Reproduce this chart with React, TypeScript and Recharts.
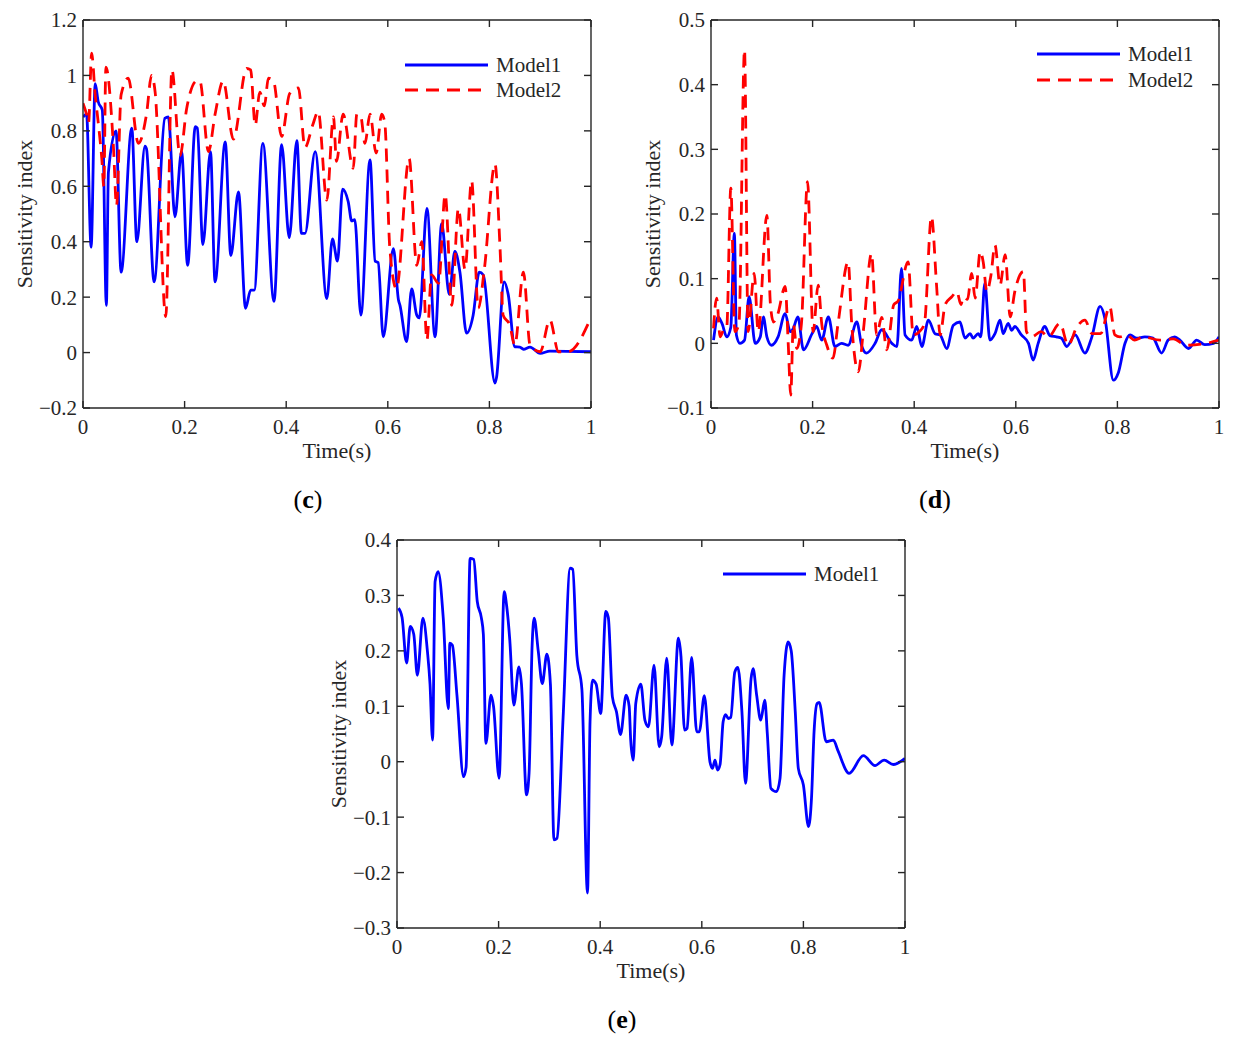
import React from 'react';
import { LineChart, Line, XAxis, YAxis, Legend } from 'recharts';

const FONT = '"Liberation Serif", "Times New Roman", serif';
const AXIS = '#262626';
const BLUE = '#0000ff';
const RED = '#ff0000';

const timeTicks = [0, 0.2, 0.4, 0.6, 0.8, 1];
const cTicks = [-0.2, 0, 0.2, 0.4, 0.6, 0.8, 1, 1.2];
const dTicks = [-0.1, 0, 0.1, 0.2, 0.3, 0.4, 0.5];
const eTicks = [-0.3, -0.2, -0.1, 0, 0.1, 0.2, 0.3, 0.4];

// [time, sensitivity] pairs
const cModel1: [number, number][] = [
  [0, 0.85], [0.007, 0.86], [0.016, 0.38], [0.024, 0.97], [0.03, 0.905], [0.038, 0.875], [0.046, 0.17], [0.05, 0.65],
  [0.065, 0.8], [0.075, 0.29], [0.096, 0.81], [0.106, 0.4], [0.122, 0.745], [0.125, 0.735], [0.14, 0.255], [0.161, 0.845],
  [0.168, 0.85], [0.181, 0.49], [0.194, 0.725], [0.206, 0.315], [0.221, 0.815], [0.225, 0.81], [0.236, 0.39], [0.251, 0.725],
  [0.26, 0.255], [0.28, 0.76], [0.291, 0.35], [0.306, 0.58], [0.32, 0.16], [0.33, 0.225], [0.337, 0.225], [0.354, 0.755],
  [0.376, 0.185], [0.391, 0.75], [0.406, 0.415], [0.421, 0.765], [0.43, 0.43], [0.437, 0.43], [0.457, 0.725], [0.48, 0.195],
  [0.491, 0.41], [0.501, 0.33], [0.511, 0.59], [0.522, 0.545], [0.529, 0.475], [0.535, 0.48], [0.547, 0.135], [0.565, 0.695],
  [0.575, 0.33], [0.581, 0.325], [0.591, 0.057], [0.611, 0.375], [0.621, 0.19], [0.624, 0.17], [0.637, 0.04], [0.647, 0.23],
  [0.657, 0.135], [0.662, 0.125], [0.677, 0.52], [0.693, 0.057], [0.706, 0.465], [0.721, 0.21], [0.732, 0.365], [0.742, 0.29],
  [0.755, 0.07], [0.768, 0.135], [0.78, 0.29], [0.788, 0.28], [0.811, -0.11], [0.814, -0.09], [0.829, 0.255], [0.837, 0.21],
  [0.85, 0.021], [0.86, 0.02], [0.867, 0.012], [0.88, 0.02], [0.9, -0.003], [0.919, 0.005], [1, 0.003],
];

const cModel2: [number, number][] = [
  [0, 0.9], [0.007, 0.86], [0.011, 0.83], [0.017, 1.08], [0.024, 0.93], [0.03, 0.83], [0.037, 0.7], [0.041, 0.6],
  [0.045, 1.03], [0.06, 0.74], [0.066, 0.53], [0.075, 0.93], [0.089, 0.99], [0.109, 0.755], [0.125, 0.86], [0.135, 1.0],
  [0.142, 0.94], [0.163, 0.13], [0.175, 1.02], [0.191, 0.71], [0.204, 0.88], [0.224, 0.98], [0.23, 0.98], [0.247, 0.725],
  [0.26, 0.86], [0.276, 0.98], [0.296, 0.77], [0.322, 1.025], [0.33, 1.02], [0.339, 0.82], [0.348, 0.94], [0.357, 0.89],
  [0.365, 0.99], [0.375, 0.98], [0.391, 0.78], [0.407, 0.935], [0.424, 0.955], [0.437, 0.74], [0.452, 0.82], [0.463, 0.87],
  [0.48, 0.55], [0.493, 0.85], [0.499, 0.69], [0.512, 0.86], [0.532, 0.665], [0.539, 0.86], [0.547, 0.85], [0.555, 0.755],
  [0.565, 0.86], [0.577, 0.72], [0.588, 0.86], [0.594, 0.83], [0.604, 0.375], [0.617, 0.23], [0.642, 0.7], [0.657, 0.315],
  [0.667, 0.4], [0.677, 0.045], [0.686, 0.28], [0.7, 0.25], [0.713, 0.57], [0.726, 0.17], [0.739, 0.52], [0.752, 0.3],
  [0.765, 0.62], [0.778, 0.16], [0.79, 0.3], [0.811, 0.68], [0.821, 0.375], [0.827, 0.135], [0.84, 0.1], [0.85, 0.027],
  [0.867, 0.29], [0.88, 0.027], [0.9, 0.003], [0.919, 0.118], [0.936, 0.003], [0.955, 0.003], [0.998, 0.118],
];

const dModel1: [number, number][] = [
  [0.005, 0.005], [0.014, 0.041], [0.022, 0.03], [0.031, 0.01], [0.039, 0.025], [0.046, 0.17], [0.05, 0.013], [0.057, 0.0],
  [0.066, 0.005], [0.075, 0.072], [0.087, 0.0], [0.097, 0.01], [0.103, 0.041], [0.11, 0.01], [0.119, -0.003], [0.132, 0.01],
  [0.146, 0.046], [0.156, 0.018], [0.162, 0.023], [0.171, 0.041], [0.182, -0.01], [0.199, 0.015], [0.208, 0.026], [0.218, 0.005],
  [0.231, 0.041], [0.244, -0.005], [0.257, 0.0], [0.27, -0.003], [0.287, 0.033], [0.297, -0.005], [0.306, -0.015], [0.323, 0.0],
  [0.336, 0.021], [0.356, 0.0], [0.366, -0.005], [0.375, 0.116], [0.382, 0.013], [0.395, 0.005], [0.405, 0.026], [0.415, -0.005],
  [0.428, 0.036], [0.441, 0.015], [0.451, 0.013], [0.464, -0.008], [0.477, 0.028], [0.49, 0.033], [0.5, 0.008], [0.51, 0.015],
  [0.516, 0.008], [0.526, 0.015], [0.531, 0.01], [0.539, 0.093], [0.549, 0.005], [0.559, 0.015], [0.569, 0.036], [0.575, 0.015],
  [0.585, 0.031], [0.592, 0.02], [0.598, 0.026], [0.611, 0.013], [0.625, 0.0], [0.634, -0.026], [0.644, 0.0], [0.657, 0.026],
  [0.667, 0.012], [0.68, 0.01], [0.69, 0.008], [0.7, -0.005], [0.717, 0.013], [0.736, -0.015], [0.749, 0.008], [0.766, 0.057],
  [0.776, 0.036], [0.792, -0.057], [0.802, -0.045], [0.815, 0.0], [0.825, 0.013], [0.838, 0.008], [0.854, 0.01], [0.87, 0.008],
  [0.887, -0.015], [0.9, 0.005], [0.913, 0.01], [0.923, 0.005], [0.94, -0.008], [0.956, 0.005], [0.972, -0.002], [0.989, 0.0],
  [1, 0.01],
];

const dModel2: [number, number][] = [
  [0.005, 0.023], [0.011, 0.07], [0.018, 0.01], [0.024, 0.02], [0.031, 0.025], [0.039, 0.24], [0.047, 0.018], [0.055, 0.03],
  [0.066, 0.454], [0.073, 0.018], [0.085, 0.108], [0.093, 0.018], [0.11, 0.198], [0.117, 0.06], [0.123, 0.033], [0.131, 0.044],
  [0.146, 0.088], [0.152, 0.0], [0.157, -0.08], [0.162, 0.03], [0.169, -0.008], [0.178, 0.03], [0.19, 0.25], [0.201, 0.018],
  [0.211, 0.09], [0.218, 0.03], [0.228, -0.003], [0.24, -0.023], [0.25, 0.03], [0.27, 0.126], [0.277, 0.03], [0.29, -0.044],
  [0.3, 0.02], [0.316, 0.139], [0.326, 0.013], [0.336, 0.04], [0.346, -0.01], [0.36, 0.06], [0.368, 0.065], [0.388, 0.126],
  [0.398, 0.013], [0.41, 0.018], [0.42, 0.03], [0.434, 0.196], [0.444, 0.09], [0.451, 0.013], [0.461, 0.06], [0.474, 0.072],
  [0.484, 0.08], [0.492, 0.06], [0.497, 0.072], [0.505, 0.068], [0.513, 0.108], [0.52, 0.07], [0.53, 0.142], [0.536, 0.125],
  [0.543, 0.08], [0.551, 0.105], [0.559, 0.152], [0.569, 0.09], [0.579, 0.137], [0.589, 0.041], [0.598, 0.08], [0.615, 0.111],
  [0.621, 0.018], [0.631, 0.01], [0.65, 0.018], [0.664, 0.01], [0.687, 0.031], [0.703, -0.003], [0.72, 0.025], [0.736, 0.036],
  [0.75, 0.015], [0.767, 0.015], [0.785, 0.057], [0.795, 0.013], [0.805, 0.01], [0.818, 0.013], [0.834, 0.005], [0.851, 0.01],
  [0.884, 0.005], [0.91, 0.007], [0.936, -0.003], [0.975, 0.0], [1, 0.005],
];

const eModel1: [number, number][] = [
  [0.003, 0.277], [0.01, 0.26], [0.019, 0.178], [0.026, 0.244], [0.033, 0.23], [0.04, 0.156], [0.051, 0.259], [0.06, 0.198],
  [0.065, 0.14], [0.07, 0.039], [0.075, 0.325], [0.081, 0.343], [0.091, 0.26], [0.101, 0.096], [0.104, 0.214], [0.109, 0.21],
  [0.118, 0.12], [0.131, -0.027], [0.136, -0.01], [0.144, 0.367], [0.151, 0.365], [0.158, 0.289], [0.166, 0.26], [0.17, 0.23],
  [0.175, 0.033], [0.185, 0.12], [0.19, 0.1], [0.201, -0.03], [0.211, 0.307], [0.216, 0.28], [0.222, 0.22], [0.23, 0.102],
  [0.24, 0.171], [0.245, 0.14], [0.255, -0.06], [0.26, -0.02], [0.266, 0.21], [0.27, 0.259], [0.278, 0.2], [0.286, 0.141],
  [0.295, 0.194], [0.302, 0.14], [0.309, -0.141], [0.315, -0.138], [0.327, 0.08], [0.341, 0.349], [0.346, 0.347], [0.354, 0.192],
  [0.364, 0.13], [0.375, -0.237], [0.38, 0.072], [0.385, 0.147], [0.392, 0.14], [0.401, 0.087], [0.411, 0.271], [0.416, 0.26],
  [0.424, 0.117], [0.432, 0.09], [0.44, 0.049], [0.451, 0.12], [0.457, 0.1], [0.46, 0.04], [0.465, 0.003], [0.47, 0.105],
  [0.48, 0.14], [0.488, 0.075], [0.495, 0.063], [0.506, 0.174], [0.516, 0.027], [0.521, 0.045], [0.531, 0.187], [0.541, 0.03],
  [0.554, 0.223], [0.559, 0.19], [0.566, 0.057], [0.571, 0.06], [0.58, 0.188], [0.59, 0.054], [0.595, 0.054], [0.605, 0.119],
  [0.616, 0.0], [0.621, -0.012], [0.626, 0.003], [0.631, -0.015], [0.636, -0.005], [0.642, 0.072], [0.647, 0.085], [0.652, 0.078],
  [0.657, 0.08], [0.665, 0.162], [0.671, 0.17], [0.679, 0.09], [0.686, -0.039], [0.697, 0.15], [0.701, 0.168], [0.708, 0.12],
  [0.716, 0.075], [0.724, 0.111], [0.729, 0.05], [0.736, -0.048], [0.747, -0.054], [0.754, -0.03], [0.762, 0.156], [0.77, 0.216],
  [0.776, 0.2], [0.784, 0.09], [0.79, -0.012], [0.8, -0.042], [0.81, -0.117], [0.816, -0.065], [0.821, 0.054], [0.827, 0.105],
  [0.831, 0.107], [0.845, 0.036], [0.859, 0.039], [0.868, 0.02], [0.89, -0.021], [0.918, 0.011], [0.941, -0.007], [0.959, 0.003],
  [0.977, -0.005], [1, 0.006],
];

const toRows = (pairs: [number, number][]) => pairs.map(([t, v]) => ({ t, v }));

const fmt = (v: number) => (v < 0 ? '\u2212' + String(Math.abs(v)) : String(v));

const tickStyle = { fill: AXIS, fontSize: 21, fontFamily: FONT };
const lineStyle = { stroke: AXIS, strokeWidth: 1.4 };
const EmptyTick = () => <g />;

const XLabel = (props: any) => {
  const vb = props.viewBox || { x: 83, y: 408, width: 508, height: 62 };
  return (
    <text x={vb.x + vb.width / 2} y={vb.y + 50} textAnchor="middle" fontFamily={FONT} fontSize={22} fill={AXIS}>
      Time(s)
    </text>
  );
};

const YLabel = (props: any) => {
  const vb = props.viewBox || { x: 0, y: 20, width: 83, height: 388 };
  const x = vb.x + vb.width - 51;
  const y = vb.y + vb.height / 2;
  return (
    <text x={x} y={y} transform={`rotate(-90 ${x} ${y})`} textAnchor="middle" fontFamily={FONT} fontSize={22} fill={AXIS}>
      Sensitivity index
    </text>
  );
};

const makeLegend = (gap: number) => (props: any) => {
  const payload = (props.payload || []).filter((e: any) => e.type !== 'none');
  return (
    <svg width={210} height={payload.length * gap + 10} style={{ display: 'block' }}>
      {payload.map((e: any, i: number) => {
        const y = 15 + i * gap;
        return (
          <g key={i}>
            <line x1={5} x2={88} y1={y} y2={y} stroke={e.color} strokeWidth={3}
              strokeDasharray={e.payload && e.payload.strokeDasharray ? e.payload.strokeDasharray : undefined} />
            <text x={96} y={y + 7} fontFamily={FONT} fontSize={21} fill={AXIS}>{e.value}</text>
          </g>
        );
      })}
    </svg>
  );
};

type Series = { name: string; data: [number, number][]; color: string; dash?: string };

function Panel(props: {
  left: number; top: number; yDomain: [number, number]; yTicks: number[]; series: Series[];
  legendLeft: number; legendTop: number; legendGap: number;
}) {
  const { left, top, yDomain, yTicks, series, legendLeft, legendTop, legendGap } = props;
  const anchorRows = toRows(series[0].data);
  return (
    <div style={{ position: 'absolute', left, top, width: 620, height: 470 }}>
      <LineChart width={620} height={470} margin={{ top: 20, right: 29, left: 0, bottom: 0 }}>
        {/* labelled axes */}
        <XAxis dataKey="t" type="number" domain={[0, 1]} ticks={timeTicks} allowDataOverflow interval={0}
          tickFormatter={fmt} tickSize={0} tickMargin={11} height={62} tick={tickStyle}
          axisLine={lineStyle} tickLine={false} label={{ content: XLabel }} />
        <YAxis type="number" domain={yDomain} ticks={yTicks} allowDataOverflow interval={0} tickFormatter={fmt}
          tickSize={0} tickMargin={6} width={83} tick={tickStyle} axisLine={lineStyle} tickLine={false}
          label={{ content: YLabel }} />
        {/* inward tick marks on all four sides (box) */}
        <XAxis xAxisId="bt" dataKey="t" orientation="bottom" mirror type="number" domain={[0, 1]} ticks={timeTicks}
          allowDataOverflow interval={0} tick={EmptyTick} tickSize={7} height={1} axisLine={false} tickLine={lineStyle} />
        <XAxis xAxisId="tt" dataKey="t" orientation="top" mirror type="number" domain={[0, 1]} ticks={timeTicks}
          allowDataOverflow interval={0} tick={EmptyTick} tickSize={7} height={1} axisLine={lineStyle} tickLine={lineStyle} />
        <YAxis yAxisId="lt" orientation="left" mirror type="number" domain={yDomain} ticks={yTicks}
          allowDataOverflow interval={0} tick={EmptyTick} tickSize={7} width={1} axisLine={false} tickLine={lineStyle} />
        <YAxis yAxisId="rt" orientation="right" mirror type="number" domain={yDomain} ticks={yTicks}
          allowDataOverflow interval={0} tick={EmptyTick} tickSize={7} width={1} axisLine={lineStyle} tickLine={lineStyle} />
        <Legend layout="vertical" verticalAlign="middle" align="center"
          wrapperStyle={{ left: legendLeft, top: legendTop, width: 210 }} content={makeLegend(legendGap)} />
        {/* invisible anchors so the tick-only axes have an item bound to them */}
        <Line data={anchorRows} dataKey="v" xAxisId="bt" yAxisId="lt" stroke="none" legendType="none" dot={false}
          activeDot={false} isAnimationActive={false} />
        <Line data={anchorRows} dataKey="v" xAxisId="tt" yAxisId="rt" stroke="none" legendType="none" dot={false}
          activeDot={false} isAnimationActive={false} />
        {series.map((s) => (
          <Line key={s.name} name={s.name} data={toRows(s.data)} dataKey="v" type="monotone" stroke={s.color}
            strokeWidth={2.8} strokeDasharray={s.dash} strokeLinejoin="round" dot={false} activeDot={false}
            isAnimationActive={false} />
        ))}
      </LineChart>
    </div>
  );
}

const PanelTag = ({ x, y, letter }: { x: number; y: number; letter: string }) => (
  <div style={{ position: 'absolute', left: x - 40, top: y - 15, width: 80, height: 30, lineHeight: '30px',
    textAlign: 'center', fontFamily: FONT, fontSize: 26, color: '#000' }}>
    (<b>{letter}</b>)
  </div>
);

export default function App() {
  return (
    <div style={{ position: 'absolute', left: 0, top: 0, width: 1236, height: 1048, background: '#fff', overflow: 'hidden' }}>
      <Panel left={0} top={0} yDomain={[-0.2, 1.2]} yTicks={cTicks}
        series={[{ name: 'Model1', data: cModel1, color: BLUE }, { name: 'Model2', data: cModel2, color: RED, dash: '13 8' }]}
        legendLeft={400} legendTop={50} legendGap={25} />
      <Panel left={628} top={0} yDomain={[-0.1, 0.5]} yTicks={dTicks}
        series={[{ name: 'Model1', data: dModel1, color: BLUE }, { name: 'Model2', data: dModel2, color: RED, dash: '13 8' }]}
        legendLeft={404} legendTop={39} legendGap={26} />
      <Panel left={314} top={520} yDomain={[-0.3, 0.4]} yTicks={eTicks}
        series={[{ name: 'Model1', data: eModel1, color: BLUE }]}
        legendLeft={404} legendTop={39} legendGap={26} />
      <PanelTag x={308} y={500} letter="c" />
      <PanelTag x={935} y={500} letter="d" />
      <PanelTag x={622} y={1020} letter="e" />
    </div>
  );
}
